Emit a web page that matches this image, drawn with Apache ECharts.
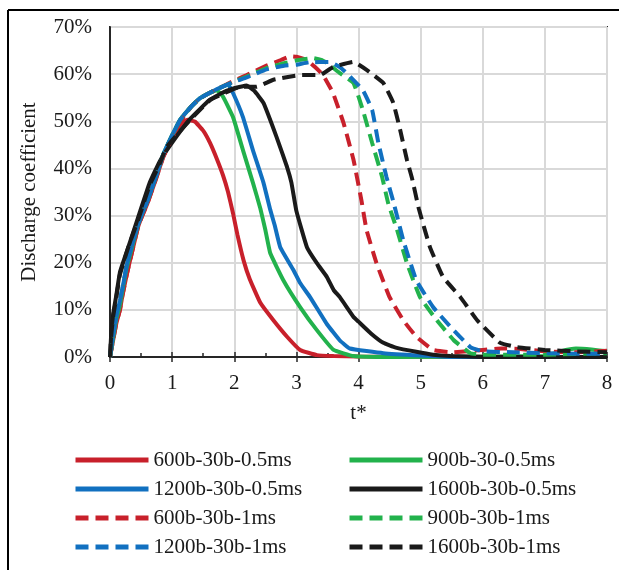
<!DOCTYPE html>
<html><head><meta charset="utf-8">
<script src="https://cdn.jsdelivr.net/npm/echarts@6/dist/echarts.min.js"></script>
<style>html,body{margin:0;padding:0;background:#fff}#c{width:619px;height:570px}</style>
</head><body><div id="c"></div>
<script>
// ---- data (t*, discharge coefficient %) ----
const xTicks = [0,1,2,3,4,5,6,7,8];
const yTicks = [0,10,20,30,40,50,60,70];
const names = ['600b-30b-0.5ms','900b-30-0.5ms','1200b-30b-0.5ms','1600b-30b-0.5ms',
               '600b-30b-1ms','900b-30b-1ms','1200b-30b-1ms','1600b-30b-1ms'];
const red05 = [[0,0],[0.05,3.5],[0.1,7],[0.16,10],[0.2,13],[0.27,17.5],[0.35,22],[0.45,27.5],[0.52,30],[0.6,32.5],[0.72,37],[0.86,42.5],[1.0,46.5],[1.13,49.3],[1.25,50.3],[1.37,49.9],[1.5,48],[1.61,45.4],[1.72,42],[1.82,38.5],[1.9,35],[1.98,30.5],[2.05,26],[2.15,20.5],[2.25,16.5],[2.42,11.5],[2.63,7.8],[2.85,4.3],[3.06,1.5],[3.33,0.4],[3.6,0.2],[4,0.1],[8,0]];
const green05 = [[0,0],[0.05,4],[0.1,8],[0.16,11],[0.2,14],[0.27,19],[0.35,23],[0.45,28],[0.52,30.5],[0.6,33],[0.72,37.5],[0.86,43],[1.0,47],[1.13,50.3],[1.3,53],[1.45,54.9],[1.6,56],[1.72,56.6],[1.82,55.2],[1.98,50.9],[2.14,43.9],[2.3,37],[2.42,31.5],[2.5,27],[2.58,22],[2.79,16.3],[3.06,10.6],[3.33,5.7],[3.6,1.5],[3.92,0.2],[4.5,0],[7,0.2],[7.25,1.2],[7.5,1.8],[7.75,1.6],[8,1.2]];
const blue05 = [[0,0],[0.05,4.5],[0.1,8.5],[0.16,12],[0.2,14.5],[0.27,19.5],[0.35,23.5],[0.45,28],[0.52,30.5],[0.6,33],[0.72,37.5],[0.86,43],[1.0,47],[1.13,50.3],[1.3,53],[1.45,54.9],[1.6,56],[1.75,57],[1.9,57.8],[1.98,56],[2.14,50.9],[2.3,43.9],[2.47,37],[2.58,31.2],[2.65,28],[2.74,23.3],[2.95,18.5],[3.06,15.7],[3.22,12.7],[3.49,7],[3.7,3.5],[3.86,1.8],[4.4,0.8],[5,0.3],[5.5,0],[8,0]];
const black05 = [[0,0],[0.02,5],[0.05,9],[0.1,13],[0.16,18],[0.3,23.5],[0.45,29.5],[0.64,37],[0.8,41.5],[1.0,45.5],[1.29,50.5],[1.6,54.5],[1.8,56],[2.0,57],[2.2,57.6],[2.32,56.5],[2.47,53.9],[2.68,46.7],[2.85,40.3],[2.92,37],[3.0,31],[3.17,23.3],[3.33,19.9],[3.49,17],[3.6,14.2],[3.7,12.7],[3.92,8.5],[4.0,7.5],[4.2,5],[4.4,3],[4.6,2],[4.93,1.1],[5.2,0.5],[5.48,0.2],[6,0],[8,0]];
const red1 = [[0,0],[0.05,3.5],[0.1,7],[0.16,10],[0.2,13],[0.27,17.5],[0.35,22],[0.45,27.5],[0.52,30],[0.6,32.5],[0.72,37],[0.86,42.5],[1.0,46.5],[1.13,49.8],[1.3,53],[1.45,54.9],[1.6,56],[1.72,56.8],[1.98,58.5],[2.2,59.8],[2.52,61.8],[2.75,63],[2.9,63.8],[3.0,63.7],[3.17,63],[3.3,61.5],[3.43,59.8],[3.59,56],[3.76,49.6],[3.92,41.8],[4.05,33],[4.13,26.9],[4.29,19.9],[4.5,12.7],[4.72,7.8],[4.93,4.3],[5.2,1.5],[5.5,1],[6,1.5],[6.3,1.8],[6.6,1.7],[7,1.2],[7.5,1],[8,1.3]];
const green1 = [[0,0],[0.05,4],[0.1,8],[0.16,11],[0.2,14],[0.27,19],[0.35,23],[0.45,28],[0.52,30.5],[0.6,33],[0.72,37.5],[0.86,43],[1.0,47],[1.13,50.3],[1.3,53],[1.45,54.9],[1.6,56],[1.72,56.8],[1.98,58.3],[2.2,59.5],[2.52,61.3],[2.8,62.3],[3.0,62.9],[3.27,63.4],[3.4,63],[3.5,62.3],[3.7,60.2],[3.92,58.1],[4.07,52.4],[4.22,45.4],[4.38,38.2],[4.48,32.5],[4.62,27],[4.78,19.9],[4.99,12.7],[5.26,7.8],[5.53,3.6],[5.8,0.8],[6,0.5],[7,0.5],[8,0.8]];
const blue1 = [[0,0],[0.05,4.5],[0.1,8.5],[0.16,12],[0.2,14.5],[0.27,19.5],[0.35,23.5],[0.45,28],[0.52,30.5],[0.6,33],[0.72,37.5],[0.86,43],[1.0,47],[1.13,50.3],[1.3,53],[1.45,54.9],[1.6,56],[1.72,56.8],[1.98,58.3],[2.2,59.3],[2.52,61],[2.8,61.8],[3.0,62],[3.2,62.5],[3.54,62.6],[3.7,61.5],[3.81,60.2],[4.07,56.6],[4.22,52.4],[4.32,45.4],[4.45,38.2],[4.56,33],[4.72,24.8],[4.93,16.3],[5.2,10.6],[5.48,6.4],[5.8,2.1],[6,1.2],[6.5,1],[7,0.8],[7.5,0.7],[8,0.7]];
const black1 = [[0,0],[0.02,4.5],[0.05,8.5],[0.1,12.5],[0.16,17.5],[0.3,23.5],[0.45,29],[0.64,36.5],[0.8,41],[0.91,44.5],[1.1,47.5],[1.29,50.3],[1.61,54.5],[1.85,56],[2.09,57.3],[2.36,57.3],[2.63,58.8],[3.06,59.8],[3.38,59.8],[3.59,61.5],[3.92,62.6],[4.13,60.9],[4.4,58.1],[4.56,53.9],[4.67,48.2],[4.78,41.8],[4.86,38],[4.97,31.5],[5.15,23.3],[5.36,17],[5.64,12.7],[5.91,7.8],[6.28,3],[6.55,2.1],[7,1.5],[7.5,1.2],[8,1]];
const seriesData = [red05, green05, blue05, black05, red1, green1, blue1, black1];
const colors = ['#C8202B','#22B24C','#1170C0','#1A1A1A','#C8202B','#22B24C','#1170C0','#1A1A1A'];
const dashed = [false,false,false,false,true,true,true,true];

const FONT = 'Liberation Serif';
function legendBlock(left, top, data){
  return {
    orient:'vertical',left:left,top:top,itemWidth:73,itemHeight:22,itemGap:7,padding:0,
    itemStyle:{opacity:0},
    lineStyle:{width:5},
    textStyle:{fontFamily:FONT,fontSize:21,color:'#1a1a1a',lineHeight:22},
    selectedMode:false,data:data
  };
}
const chart = echarts.init(document.getElementById('c'));
chart.setOption({
  backgroundColor:'#fff',
  animation:false,
  textStyle:{fontFamily:FONT,color:'#1a1a1a'},
  grid:{left:110,right:12,top:27,bottom:213,show:true,borderColor:'#262626',borderWidth:2,containLabel:false},
  xAxis:[{
    type:'value',min:xTicks[0],max:xTicks[xTicks.length-1],interval:1,
    name:'t*',nameLocation:'middle',nameGap:46,
    nameTextStyle:{fontFamily:FONT,fontSize:21,color:'#1a1a1a'},
    axisLine:{show:true,lineStyle:{color:'#262626',width:2}},
    axisTick:{show:true,inside:true,length:5,lineStyle:{color:'#262626',width:1.5}},
    minorTick:{show:true,splitNumber:2,length:4,lineStyle:{color:'#262626',width:1.5}},
    axisLabel:{fontFamily:FONT,fontSize:21,color:'#1a1a1a',margin:16},
    splitLine:{show:true,lineStyle:{color:'#d9d9d9',width:2}},
    minorSplitLine:{show:false}
  },{
    type:'value',min:xTicks[0],max:xTicks[xTicks.length-1],interval:1,position:'bottom',
    axisLine:{show:false},axisTick:{show:true,inside:false,length:5,lineStyle:{color:'#262626',width:1.5}},
    axisLabel:{show:false},splitLine:{show:false}
  }],
  yAxis:{
    type:'value',min:yTicks[0],max:yTicks[yTicks.length-1],interval:10,
    name:'Discharge coefficient',nameLocation:'middle',nameGap:70,
    nameTextStyle:{fontFamily:FONT,fontSize:21,color:'#1a1a1a'},
    axisLine:{show:true,lineStyle:{color:'#262626',width:2}},
    axisTick:{show:false},
    axisLabel:{fontFamily:FONT,fontSize:21,color:'#1a1a1a',margin:18,formatter:'{value}%'},
    splitLine:{show:true,lineStyle:{color:'#d9d9d9',width:2}}
  },
  legend:[
    legendBlock(73,449,[names[0],names[2],names[4],names[6]]),
    legendBlock(347,449,[names[1],names[3],names[5],names[7]])
  ],
  graphic:[
    {type:'line',shape:{x1:8,y1:10,x2:619,y2:10},style:{stroke:'#000',lineWidth:2}},
    {type:'line',shape:{x1:8,y1:10,x2:8,y2:570},style:{stroke:'#000',lineWidth:2}}
  ],
  series: seriesData.map((d,i)=>({
    name:names[i],type:'line',data:d,symbol:'none',smooth:0.1,
    xAxisIndex:0,
    itemStyle:{color:colors[i]},
    lineStyle:{color:colors[i],width:4,type:dashed[i]?[13,7]:'solid',cap:'butt'}
  }))
});
</script></body></html>
